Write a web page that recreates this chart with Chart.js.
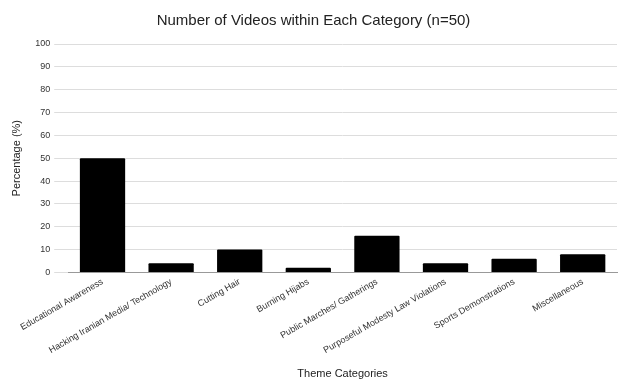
<!DOCTYPE html>
<html>
<head>
<meta charset="utf-8">
<script src="https://cdn.jsdelivr.net/npm/chart.js@4.4.0/dist/chart.umd.min.js"></script>
<style>
  html, body { margin: 0; padding: 0; background: #fff; }
  #wrap { width: 624px; height: 383px; position: relative; }
</style>
</head>
<body>
<div id="wrap"><canvas id="chart"></canvas></div>
<script>
// Werte
const categories = [
    'Educational Awareness',
    'Hacking Iranian Media/ Technology',
    'Cutting Hair',
    'Burning Hijabs',
    'Public Marches/ Gatherings',
    'Purposeful Modesty Law Violations',
    'Sports Demonstrations',
    'Miscellaneous'
];
const percentages = [50, 4, 10, 2, 16, 4, 6, 8];
const yTicks = [0, 10, 20, 30, 40, 50, 60, 70, 80, 90, 100];

const font = 'Liberation Sans, Arial, sans-serif';

new Chart(document.getElementById('chart'), {
    type: 'bar',
    data: {
        labels: categories,
        datasets: [{
            label: 'Percentage (%)',
            data: percentages,
            backgroundColor: '#000',
            borderRadius: 1,
            categoryPercentage: 1,
            barPercentage: 0.66
        }]
    },
    options: {
        responsive: true,
        maintainAspectRatio: false,
        animation: false,
        layout: { padding: { left: 10, right: 7, top: 4, bottom: 0 } },
        plugins: {
            legend: { display: false },
            tooltip: { enabled: false },
            title: {
                display: true,
                text: 'Number of Videos within Each Category (n=50)',
                color: '#222',
                font: { family: font, size: 15, weight: 'normal' },
                padding: { top: 8, bottom: 14 }
            }
        },
        scales: {
            x: {
                grid: { display: false, drawTicks: false },
                border: { color: '#999', width: 1 },
                ticks: {
                    color: '#333',
                    font: { family: font, size: 9 },
                    autoSkip: false,
                    minRotation: 30,
                    maxRotation: 30,
                    padding: 4
                },
                title: {
                    display: true,
                    text: 'Theme Categories',
                    color: '#222',
                    font: { family: font, size: 11 },
                    padding: { top: 8, bottom: 2 }
                }
            },
            y: {
                min: 0,
                max: 100,
                afterBuildTicks: axis => { axis.ticks = yTicks.map(v => ({ value: v })); },
                grid: { color: '#ddd', drawTicks: true, tickLength: 14 },
                border: { display: false },
                ticks: {
                    color: '#333',
                    font: { family: font, size: 9 },
                    padding: 4
                },
                title: {
                    display: true,
                    text: 'Percentage (%)',
                    color: '#222',
                    font: { family: font, size: 11 },
                    padding: { top: 0, bottom: 8 }
                }
            }
        }
    }
});
</script>
</body>
</html>
